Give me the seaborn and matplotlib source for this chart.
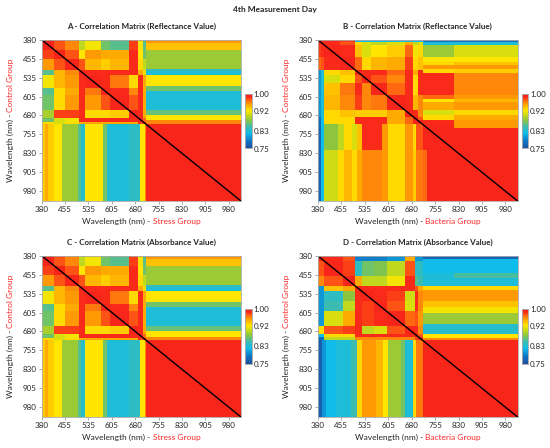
import numpy as np
import matplotlib.pyplot as plt
import seaborn as sns
from matplotlib.colors import LinearSegmentedColormap

# 5 nm wavelength grid shared by every matrix
wavelengths = np.arange(380, 1020, 5)
tick_labels = [380, 455, 535, 605, 680, 755, 830, 905, 980]
cbar_ticks = [0.75, 0.83, 0.92, 1.00]
nir_level = 0.99

# ---------- A / C : reflectance & absorbance, control vs stress ----------
A_up_vis_edges = [380, 420, 455, 500, 520, 570, 600, 660, 690, 705, 715]
A_up_vis = [
    [0.99, 0.975, 0.96, 0.90, 0.92, 0.87, 0.86, 0.98, 0.92, 0.86],
    [0.99, 0.975, 0.925, 0.955, 0.95, 0.95, 0.985, 0.925, 0.87],
    [0.99, 0.975, 0.945, 0.935, 0.945, 0.985, 0.93, 0.90],
    [0.99, 0.985, 0.985, 0.985, 0.985, 0.95, 0.93],
    [0.99, 0.985, 0.965, 0.93, 0.985, 0.95],
    [0.99, 0.985, 0.96, 0.985, 0.95],
    [0.99, 0.975, 0.985, 0.95],
    [0.99, 0.985, 0.95],
    [0.99, 0.97],
    [0.99],
]
A_up_stripe_edges = [380, 395, 420, 492, 505, 518, 565, 585, 657, 680, 700, 715]
A_up_nir_edges = [715, 1020]
A_up_stripe = [0.955, 0.94, 0.885, 0.845, 0.83, 0.925, 0.87, 0.83, 0.865, 0.925, 0.96]

A_lo_vis_edges = A_up_vis_edges
A_lo_vis = [
    [0.99],
    [0.98, 0.99],
    [0.955, 0.975, 0.99],
    [0.86, 0.945, 0.96, 0.99],
    [0.92, 0.945, 0.955, 0.985, 0.99],
    [0.86, 0.93, 0.95, 0.985, 0.965, 0.99],
    [0.87, 0.93, 0.955, 0.985, 0.955, 0.975, 0.99],
    [0.89, 0.98, 0.98, 0.985, 0.93, 0.93, 0.935, 0.99],
    [0.87, 0.91, 0.92, 0.985, 0.985, 0.985, 0.985, 0.985, 0.99],
    [0.93, 0.91, 0.93, 0.95, 0.95, 0.95, 0.95, 0.95, 0.98, 0.99],
]
A_lo_stripe_edges = [380, 390, 400, 417, 445, 492, 503, 519, 572, 588, 658, 695, 706, 715]
A_lo_nir_edges = [715, 1020]
A_lo_stripe = [0.935, 0.95, 0.935, 0.925, 0.885, 0.86, 0.835, 0.925, 0.87, 0.83,
               0.84, 0.925, 0.96]

# ---------- B : reflectance, control vs bacteria ----------
B_up_vis_edges = [380, 390, 400, 446, 500, 518, 550, 600, 660, 684, 700, 715]
B_up_vis = [
    [0.99, 0.985, 0.985, 0.98, 0.82, 0.82, 0.82, 0.83, 0.83, 0.82, 0.82],
    [0.99, 0.985, 0.975, 0.93, 0.91, 0.90, 0.91, 0.95, 0.90, 0.91],
    [0.99, 0.985, 0.94, 0.91, 0.925, 0.935, 0.97, 0.92, 0.93],
    [0.99, 0.97, 0.93, 0.945, 0.95, 0.98, 0.93, 0.94],
    [0.99, 0.985, 0.985, 0.97, 0.985, 0.95, 0.985],
    [0.99, 0.975, 0.96, 0.985, 0.93, 0.985],
    [0.99, 0.97, 0.985, 0.93, 0.985],
    [0.99, 0.985, 0.945, 0.96],
    [0.99, 0.985, 0.96],
    [0.99, 0.975],
    [0.99],
]
B_up_stripe_edges = [380, 388, 400, 446, 466, 480, 493, 506, 598, 611, 624, 657, 677, 697, 715]
B_up_nir_edges = [715, 811, 1020]
B_up_stripe = [
    [0.78, 0.78], [0.83, 0.83], [0.885, 0.91], [0.925, 0.925], [0.93, 0.94],
    [0.955, 0.955], [0.93, 0.935], [0.985, 0.96], [0.97, 0.955], [0.925, 0.945],
    [0.95, 0.955], [0.91, 0.93], [0.93, 0.95], [0.985, 0.955],
]
B_up_extra = [(715, 730, 811, 1020, 0.955)]

B_lo_vis_edges = [380, 388, 396, 446, 500, 518, 550, 600, 660, 684, 715]
B_lo_vis = [
    [0.99],
    [0.985, 0.99],
    [0.98, 0.985, 0.99],
    [0.97, 0.975, 0.985, 0.99],
    [0.80, 0.83, 0.93, 0.94, 0.99],
    [0.80, 0.83, 0.91, 0.93, 0.975, 0.99],
    [0.80, 0.83, 0.94, 0.965, 0.985, 0.96, 0.99],
    [0.80, 0.83, 0.945, 0.96, 0.98, 0.96, 0.965, 0.99],
    [0.80, 0.83, 0.93, 0.94, 0.935, 0.935, 0.935, 0.95, 0.99],
    [0.78, 0.82, 0.93, 0.93, 0.985, 0.985, 0.985, 0.95, 0.97, 0.99],
]
B_lo_stripe_edges = [380, 388, 396, 444, 465, 486, 502, 518, 582, 604, 657, 684, 694, 715]
B_lo_nir_edges = [715, 815, 1020]
B_lo_stripe = [
    [0.77, 0.77], [0.82, 0.82], [0.88, 0.905], [0.90, 0.93], [0.93, 0.945],
    [0.91, 0.93], [0.94, 0.95], [0.985, 0.96], [0.955, 0.955], [0.93, 0.93],
    [0.955, 0.955], [0.93, 0.935], [0.975, 0.965],
]
B_lo_extra = [(815, 1020, 715, 726, 0.97)]

# ---------- D : absorbance, control vs bacteria ----------
D_up_vis_edges = [380, 400, 460, 500, 520, 560, 600, 660, 690, 700, 715]
D_up_vis = [
    [0.99, 0.985, 0.975, 0.79, 0.79, 0.79, 0.80, 0.95, 0.80, 0.80],
    [0.99, 0.98, 0.84, 0.87, 0.875, 0.90, 0.975, 0.84, 0.84],
    [0.99, 0.95, 0.90, 0.90, 0.92, 0.985, 0.86, 0.85],
    [0.99, 0.985, 0.985, 0.985, 0.985, 0.975, 0.95],
    [0.99, 0.985, 0.98, 0.905, 0.985, 0.96],
    [0.99, 0.975, 0.91, 0.985, 0.96],
    [0.99, 0.97, 0.975, 0.955],
    [0.99, 0.985, 0.96],
    [0.99, 0.975],
    [0.99],
]
D_up_stripe_edges = [380, 393, 446, 466, 499, 512, 558, 584, 604, 650, 690, 705, 715]
D_up_nir_edges = [715, 811, 1020]
D_up_stripe = [
    [0.77, 0.77], [0.82, 0.82], [0.83, 0.855], [0.83, 0.83], [0.93, 0.93],
    [0.955, 0.955], [0.94, 0.94], [0.92, 0.92], [0.885, 0.885], [0.835, 0.835],
    [0.925, 0.925], [0.96, 0.96],
]

D_lo_vis_edges = D_up_vis_edges
D_lo_vis = [
    [0.99],
    [0.975, 0.99],
    [0.96, 0.975, 0.99],
    [0.80, 0.94, 0.95, 0.99],
    [0.80, 0.84, 0.88, 0.985, 0.99],
    [0.80, 0.85, 0.90, 0.985, 0.98, 0.99],
    [0.80, 0.91, 0.95, 0.985, 0.98, 0.985, 0.99],
    [0.93, 0.975, 0.98, 0.985, 0.90, 0.91, 0.975, 0.99],
    [0.82, 0.93, 0.93, 0.985, 0.985, 0.985, 0.985, 0.985, 0.99],
    [0.78, 0.90, 0.90, 0.96, 0.96, 0.96, 0.96, 0.96, 0.98, 0.99],
]
D_lo_stripe_edges = [380, 391, 401, 439, 481, 502, 518, 561, 588, 604, 641, 657, 684, 694, 715]
D_lo_nir_edges = [715, 1020]
D_lo_stripe = [0.765, 0.80, 0.82, 0.83, 0.85, 0.93, 0.955, 0.945, 0.925, 0.885,
               0.87, 0.83, 0.93, 0.965]

panel_titles = [
    "A - Correlation Matrix (Reflectance Value)",
    "B - Correlation Matrix (Reflectance Value)",
    "C - Correlation Matrix (Absorbance Value)",
    "D - Correlation Matrix (Absorbance Value)",
]
x_groups = ["Stress Group", "Bacteria Group", "Stress Group", "Bacteria Group"]


def tri_full(rows, upper):
    k = len(rows)
    full = np.zeros((k, k))
    for b, row in enumerate(rows):
        for c, v in enumerate(row):
            cc = b + c if upper else c
            full[b, cc] = full[cc, b] = v
    return full


def put(m, r_edges, c_edges, table):
    table = np.asarray(table, dtype=float).reshape(len(r_edges) - 1, len(c_edges) - 1)
    for a in range(len(r_edges) - 1):
        ri = (wavelengths >= r_edges[a]) & (wavelengths < r_edges[a + 1])
        for b in range(len(c_edges) - 1):
            ci = (wavelengths >= c_edges[b]) & (wavelengths < c_edges[b + 1])
            m[np.ix_(ri, ci)] = table[a, b]
            m[np.ix_(ci, ri)] = table[a, b]


def triangle(vis_edges, vis_rows, upper, stripe_edges, nir_edges, stripe, extra=()):
    n = len(wavelengths)
    m = np.full((n, n), nir_level)
    put(m, vis_edges, vis_edges, tri_full(vis_rows, upper))
    put(m, stripe_edges, nir_edges, stripe)
    for r0, r1, c0, c1, v in extra:
        put(m, [r0, r1], [c0, c1], [[v]])
    return m


def combine(up, lo):
    i, j = np.indices(up.shape)
    return np.where(j > i, up, lo)


mat_A = combine(
    triangle(A_up_vis_edges, A_up_vis, True, A_up_stripe_edges, A_up_nir_edges, A_up_stripe),
    triangle(A_lo_vis_edges, A_lo_vis, False, A_lo_stripe_edges, A_lo_nir_edges, A_lo_stripe),
)
mat_B = combine(
    triangle(B_up_vis_edges, B_up_vis, True, B_up_stripe_edges, B_up_nir_edges, B_up_stripe, B_up_extra),
    triangle(B_lo_vis_edges, B_lo_vis, False, B_lo_stripe_edges, B_lo_nir_edges, B_lo_stripe, B_lo_extra),
)
mat_D = combine(
    triangle(D_up_vis_edges, D_up_vis, True, D_up_stripe_edges, D_up_nir_edges, D_up_stripe),
    triangle(D_lo_vis_edges, D_lo_vis, False, D_lo_stripe_edges, D_lo_nir_edges, D_lo_stripe),
)
# C looks the same as A in the source figure
matrices = [mat_A, mat_B, mat_A, mat_D]

cmap = LinearSegmentedColormap.from_list("spec", [
    (0.00, "#1d4f9b"), (0.14, "#0f78c8"), (0.28, "#10bde9"), (0.40, "#3cbcb0"),
    (0.52, "#8cc63f"), (0.62, "#cddc14"), (0.70, "#ffe600"), (0.80, "#ffaa00"),
    (0.88, "#ff6a10"), (0.94, "#fa2a1a"), (1.00, "#f51c1c"),
])

sns.set_style("white")
plt.rcParams["font.family"] = ["Lato", "DejaVu Sans"]

W, H = 550, 448
fig = plt.figure(figsize=(W / 100, H / 100), dpi=100)

# pixel boxes (left, top, right, bottom) of each heatmap and colorbar
ax_boxes = [(41.7, 39.7, 241.3, 201.3), (317.7, 39.7, 518.0, 201.3),
            (41.7, 255.7, 241.3, 417.3), (317.7, 255.7, 518.0, 417.3)]
cb_boxes = [(245.0, 94.0, 251.5, 148.5), (521.5, 94.0, 528.0, 148.5),
            (245.0, 309.0, 251.5, 363.5), (521.5, 309.0, 528.0, 363.5)]


def rect(box):
    l, t, r, b = box
    return [l / W, 1 - b / H, (r - l) / W, (b - t) / H]


red = "#ff2a2a"
label_parts = []
for k in range(4):
    ax = fig.add_axes(rect(ax_boxes[k]))
    cax = fig.add_axes(rect(cb_boxes[k]))
    mat = matrices[k]
    n = mat.shape[0]
    sns.heatmap(mat, ax=ax, cmap=cmap, vmin=0.75, vmax=1.0, cbar_ax=cax,
                xticklabels=False, yticklabels=False,
                cbar_kws={"ticks": cbar_ticks, "format": "%.2f"})
    ax.plot([0, n], [0, n], color="black", lw=1.0)
    pos = np.arange(0, n, 15)
    ax.set_xticks(pos)
    ax.set_xticklabels(tick_labels, fontsize=5.8)
    ax.set_yticks(pos)
    ax.set_yticklabels(tick_labels, fontsize=5.8, rotation=0)
    ax.tick_params(bottom=True, left=True, length=2, width=0.5, color="#888888", pad=1.5)
    for s in ax.spines.values():
        s.set_visible(True)
        s.set_color("#aaaaaa")
        s.set_linewidth(0.6)
    cax.tick_params(labelsize=5.8, length=0, pad=1.5)
    for s in cax.spines.values():
        s.set_visible(True)
        s.set_color("#aaaaaa")
        s.set_linewidth(0.5)

    l, t, r, b = ax_boxes[k]
    cx = (l + r) / 2
    fig.text(cx / W, 1 - (t - 13) / H, panel_titles[k], ha="center", va="center",
             fontsize=5.8, fontweight="bold")
    # two-colour axis labels: black part + red group name
    xa = fig.text(cx / W, 1 - (b + 20) / H, "Wavelength (nm) - ", ha="left",
                  va="center", fontsize=6)
    xb = fig.text(0, 0, x_groups[k], color=red, fontsize=6, ha="left", va="center")
    ya = fig.text((l - 31) / W, 1 - ((t + b) / 2) / H, "Wavelength (nm) - ",
                  rotation=90, ha="center", va="bottom", fontsize=6)
    yb = fig.text(0, 0, "Control Group", color=red, rotation=90, fontsize=6,
                  ha="center", va="bottom")
    label_parts.append((xa, xb, ya, yb, cx, (t + b) / 2, l - 31, b + 20))

fig.text(0.5, 1 - 9.5 / H, "4th Measurement Day", ha="center", va="center",
         fontsize=6, fontweight="bold")

# centre the two-colour axis labels
fig.canvas.draw()
rend = fig.canvas.get_renderer()
for xa, xb, ya, yb, cx, cy, ylx, xly in label_parts:
    w1 = xa.get_window_extent(rend).width
    w2 = xb.get_window_extent(rend).width
    x0 = cx - (w1 + w2) / 2
    xa.set_position((x0 / W, 1 - xly / H))
    xb.set_position(((x0 + w1) / W, 1 - xly / H))
    h1 = ya.get_window_extent(rend).height
    h2 = yb.get_window_extent(rend).height
    y0 = cy + (h1 + h2) / 2  # bottom of the rotated label, in pixels from top
    ya.set_position((ylx / W, 1 - y0 / H))
    yb.set_position((ylx / W, 1 - (y0 - h1) / H))

fig.savefig("out.png", dpi=100)
plt.close(fig)
